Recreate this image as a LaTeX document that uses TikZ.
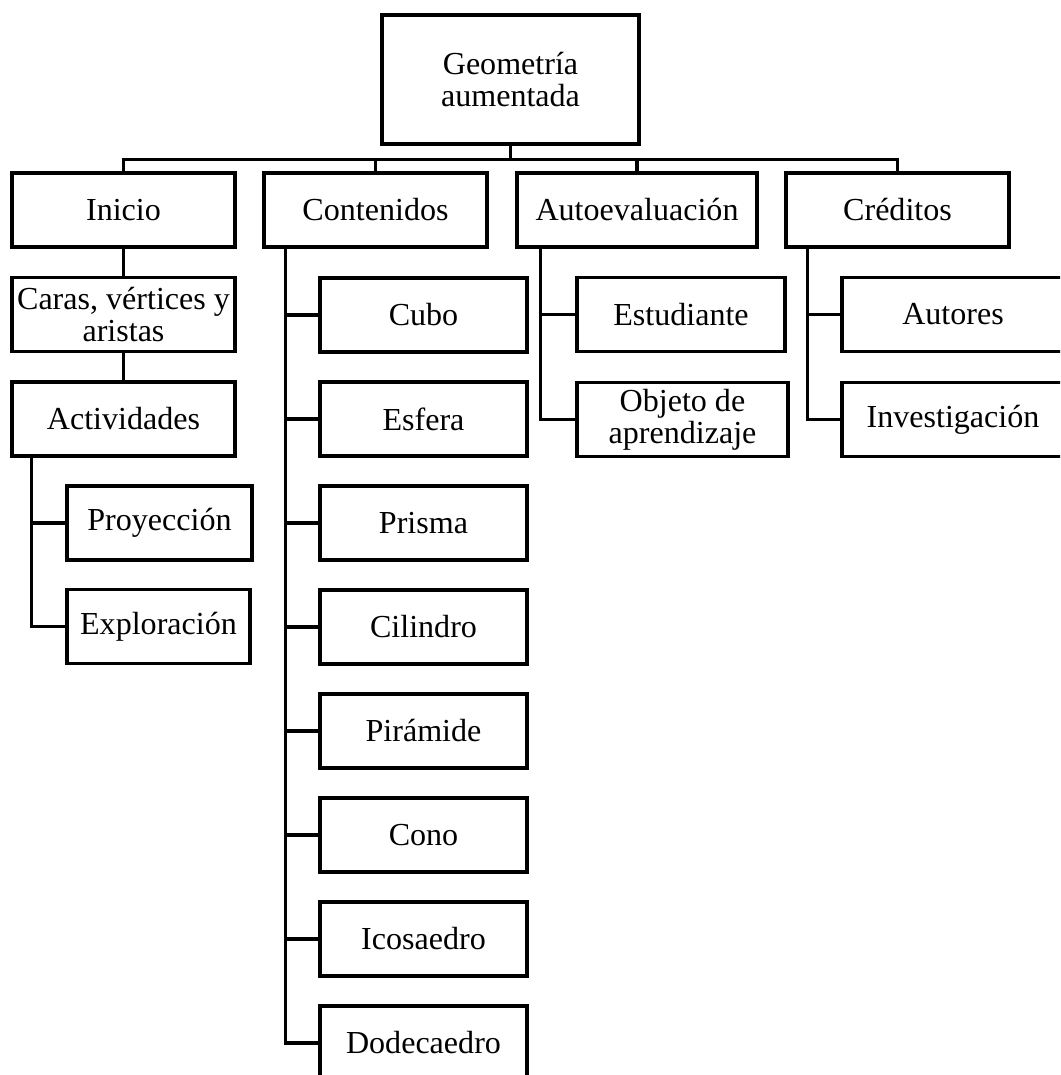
\documentclass[tikz,border=0pt]{standalone}
\usepackage{fontspec}
\setmainfont{Liberation Serif}
\usepackage{tikz}

\begin{document}
\begin{tikzpicture}[x=0.025cm,y=-0.025cm,
    box/.style={draw,black,line width=2.4pt,inner sep=0pt,align=center,
      minimum height=1.85cm,font=\fontsize{22.8}{22.8}\selectfont},
    link/.style={black,line width=2.2pt}]
  \clip (0,0) rectangle (1060,1075);

  \node[box,minimum width=6.425cm,minimum height=3.225cm] (geo) at (510.5,79.5) {Geometría\\aumentada};

  \node[box,minimum width=5.575cm] (inicio) at (123.5,210) {Inicio};
  \node[box,minimum width=5.575cm] (cont) at (375.5,210) {Contenidos};
  \node[box,minimum width=6cm] (autoev) at (637,210) {Autoevaluación};
  \node[box,minimum width=5.575cm] (cred) at (897.5,210) {Créditos};

  % rama de inicio
  \node[box,minimum width=5.575cm] (caras) at (123.5,314.5) {Caras, vértices y\\aristas};
  \node[box,minimum width=5.575cm] (activ) at (123.5,419) {Actividades};
  \node[box,minimum width=4.625cm] (proy) at (159.5,523) {Proyección};
  \node[box,minimum width=4.575cm] (explo) at (158.5,626.5) {Exploración};

  % rama de contenidos
  \node[box,minimum width=5.175cm] (cubo) at (423.5,315) {Cubo};
  \node[box,minimum width=5.175cm] (esfera) at (423.5,419) {Esfera};
  \node[box,minimum width=5.175cm] (prisma) at (423.5,523) {Prisma};
  \node[box,minimum width=5.175cm] (cilin) at (423.5,627) {Cilindro};
  \node[box,minimum width=5.175cm] (pirab) at (423.5,731) {Pirámide};
  \node[box,minimum width=5.175cm] (cono) at (423.5,835) {Cono};
  \node[box,minimum width=5.175cm] (icosa) at (423.5,939) {Icosaedro};
  \node[box,minimum width=5.175cm] (dodeca) at (423.5,1043) {Dodecaedro};

  % rama de autoevaluacion y creditos
  \node[box,minimum width=5.2cm] (estud) at (681,314.5) {Estudiante};
  \node[box,minimum width=5.275cm] (objeto) at (682.5,419.5) {Objeto de\\aprendizaje};
  \node[box,minimum width=5.55cm] (autores) at (953,314.5) {Autores};
  \node[box,minimum width=5.55cm] (invest) at (953,419.5) {Investigación};

  \draw[link] (geo.south) -- ++(0,14) coordinate (bus);
  \draw[link] (inicio.north) |- (bus) -| (cred.north);
  \draw[link] (cont.north) -- (cont.north |- bus);
  \draw[link] (autoev.north) -- (autoev.north |- bus);

  \draw[link] (inicio) -- (caras);
  \draw[link] (caras) -- (activ);
  \draw[link] (activ.south west) ++(21,0) |- (proy.west);
  \draw[link] (activ.south west) ++(21,0) |- (explo.west);

  \draw[link] (cont.south west) ++(23,0) |- (cubo.west);
  \draw[link] (cont.south west) ++(23,0) |- (esfera.west);
  \draw[link] (cont.south west) ++(23,0) |- (prisma.west);
  \draw[link] (cont.south west) ++(23,0) |- (cilin.west);
  \draw[link] (cont.south west) ++(23,0) |- (pirab.west);
  \draw[link] (cont.south west) ++(23,0) |- (cono.west);
  \draw[link] (cont.south west) ++(23,0) |- (icosa.west);
  \draw[link] (cont.south west) ++(23,0) |- (dodeca.west);

  \draw[link] (autoev.south west) ++(25,0) |- (estud.west);
  \draw[link] (autoev.south west) ++(25,0) |- (objeto.west);
  \draw[link] (cred.south west) ++(23,0) |- (autores.west);
  \draw[link] (cred.south west) ++(23,0) |- (invest.west);
\end{tikzpicture}
\end{document}
